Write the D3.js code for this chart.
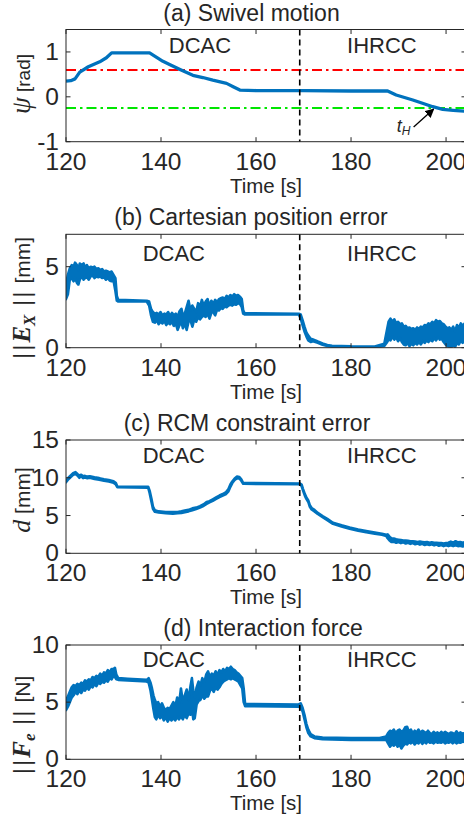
<!DOCTYPE html>
<html><head><meta charset="utf-8">
<script src="https://cdn.jsdelivr.net/npm/d3@7"></script>
<style>
html,body{margin:0;padding:0;background:#fff;}
svg{display:block;}
text{font-family:"Liberation Sans",Arial,Helvetica,sans-serif;fill:#262626;}
</style></head>
<body>
<svg id="c" width="464" height="821"></svg>
<script>
// ---------------- data ----------------
const xTicks = [120, 140, 160, 180, 200];
const switchTime = 169.2;
const phaseLabels = ["DCAC", "IHRCC"];
const titles = ["(a) Swivel motion", "(b) Cartesian position error", "(c) RCM constraint error", "(d) Interaction force"];
const yTicksA = [-1, 0, 1];
const yTicksB = [0, 5];
const yTicksC = [0, 5, 10, 15];
const yTicksD = [0, 5, 10];
const swivelUpper = 0.6;
const swivelLower = -0.25;
const tH = 197.6;

// (a) swivel angle psi [rad]: [time, value]
const swivel = [
  [120.0,0.35],[121.0,0.36],[121.9,0.40],[122.9,0.55],[124.7,0.67],[127.1,0.78],[128.5,0.87],
  [129.6,0.98],[137.6,0.98],[138.5,0.92],[140.4,0.79],[141.8,0.72],[144.0,0.61],[146.7,0.48],
  [148.8,0.43],[150.9,0.37],[153.8,0.30],[155.3,0.22],[156.6,0.15],[160.0,0.14],[170.0,0.14],
  [180.0,0.13],[187.7,0.13],[189.5,0.04],[193.0,-0.07],[195.2,-0.15],[197.2,-0.22],[199.3,-0.28],
  [201.5,-0.30],[204.2,-0.32]
];

// (b) Cartesian position error [mm]: [time, low, high] of the plotted trace
const posErr = [
  [120.0,3.0,3.9],[120.4,3.3,4.5],[120.8,4.2,4.9],[121.2,4.3,5.1],[121.6,4.1,5.0],[121.9,4.3,5.25],
  [122.3,4.0,5.1],[122.6,3.9,4.8],[122.9,4.2,5.2],[123.3,4.4,5.1],[123.7,4.2,5.2],[124.0,4.3,4.95],
  [124.4,4.35,5.1],[124.8,4.2,4.9],[125.2,4.4,5.0],[125.6,4.45,4.95],[126.0,4.3,5.0],[126.4,4.4,4.85],
  [126.8,4.35,4.9],[127.2,4.4,4.8],[127.6,4.3,4.85],[128.0,4.35,4.7],[128.4,4.2,4.75],[128.8,4.3,4.7],
  [129.2,4.15,4.65],[129.6,4.1,4.7],[130.0,4.15,4.5],[130.4,3.5,4.3],[130.7,2.9,3.2],[131.0,2.85,2.95],
  [137.0,2.85,2.9],[137.5,2.6,2.85],[137.9,2.0,2.4],[138.3,1.6,2.2],[138.7,1.55,2.1],[139.1,1.7,2.15],
  [139.5,1.45,2.05],[139.9,1.6,2.2],[140.3,1.5,2.0],[140.7,1.65,2.1],[141.1,1.4,2.05],[141.5,1.55,2.2],
  [141.9,1.45,1.95],[142.3,1.6,2.15],[142.7,1.35,2.0],[143.1,1.5,2.1],[143.5,1.1,1.9],[143.9,1.4,2.25],
  [144.3,1.6,2.4],[144.6,1.2,2.0],[145.0,1.5,2.1],[145.4,1.1,2.5],[145.8,1.6,2.9],[146.2,1.7,2.3],
  [146.6,1.3,2.6],[147.0,1.75,2.4],[147.4,1.6,2.2],[147.8,1.9,2.75],[148.2,1.75,2.5],[148.6,1.9,2.95],
  [149.0,2.0,2.6],[149.4,1.9,2.85],[149.8,2.1,3.0],[150.2,1.8,2.55],[150.6,2.15,2.9],[151.0,2.2,2.7],
  [151.4,2.0,2.95],[151.8,2.35,2.8],[152.2,2.3,3.0],[152.6,2.45,3.05],[153.0,2.4,3.1],[153.4,2.55,3.0],
  [153.8,2.5,3.2],[154.2,2.6,3.1],[154.6,2.65,3.25],[155.0,2.6,3.15],[155.4,2.7,3.3],[155.8,2.65,3.2],
  [156.2,2.75,3.25],[156.6,2.7,3.15],[157.0,2.5,3.0],[157.3,2.1,2.3],[157.6,2.05,2.12],[169.0,2.05,2.1],
  [169.4,1.8,2.05],[169.8,1.4,1.7],[170.2,1.0,1.3],[170.6,0.7,0.95],[171.0,0.45,0.75],[171.5,0.35,0.55],
  [172.0,0.4,0.5],[172.5,0.35,0.45],[173.0,0.3,0.38],[174.0,0.18,0.26],[175.0,0.1,0.17],[176.0,0.06,0.12],
  [180.0,0.03,0.08],[185.0,0.02,0.07],[187.0,0.1,0.25],[187.5,0.3,1.0],[187.9,0.5,1.6],[188.3,0.45,1.8],
  [188.7,0.7,1.6],[189.1,0.5,1.75],[189.5,0.65,1.5],[189.9,0.4,1.6],[190.3,0.6,1.45],[190.7,0.35,1.5],
  [191.1,0.2,1.3],[191.5,0.15,1.35],[191.9,0.3,1.2],[192.3,0.1,1.25],[192.7,0.25,1.15],[193.1,0.15,1.2],
  [193.5,0.3,1.1],[193.9,0.2,1.25],[194.3,0.35,1.15],[194.7,0.2,1.3],[195.1,0.4,1.25],[195.5,0.3,1.4],
  [195.9,0.45,1.35],[196.3,0.35,1.5],[196.7,0.5,1.45],[197.1,0.4,1.6],[197.5,0.6,1.5],[197.9,0.45,1.7],
  [198.3,0.65,1.6],[198.7,0.5,1.65],[199.1,0.55,1.5],[199.5,0.35,1.45],[199.9,0.2,1.3],[200.3,0.1,1.2],
  [200.7,0.05,1.25],[201.1,0.0,1.1],[201.5,0.2,1.3],[201.9,0.05,1.0],[202.3,0.3,1.4],[202.7,0.2,1.2],
  [203.1,0.45,1.5],[203.5,0.3,1.35],[204.2,0.5,1.6]
];

// (c) RCM constraint error d [mm]: [time, low, high]
const rcmErr = [
  [120.0,9.4,9.6],[120.5,9.8,10.0],[121.0,10.1,10.3],[121.5,10.4,10.6],[122.0,10.5,10.75],[122.4,10.3,10.5],
  [122.8,10.0,10.3],[123.2,10.2,10.4],[123.6,9.95,10.2],[124.0,10.05,10.25],[124.5,9.95,10.15],[125.0,10.0,10.2],
  [126.0,9.85,10.05],[127.0,9.75,9.95],[128.0,9.6,9.8],[129.0,9.5,9.7],[130.0,9.35,9.55],[130.5,9.1,9.3],
  [130.8,8.75,8.85],[137.3,8.7,8.8],[137.6,8.0,8.3],[138.0,6.8,7.2],[138.3,5.9,6.2],[138.7,5.5,5.7],
  [139.5,5.4,5.55],[141.0,5.3,5.45],[142.5,5.25,5.45],[143.5,5.3,5.45],[144.3,5.35,5.55],[145.0,5.45,5.65],
  [145.8,5.55,5.75],[146.6,5.7,5.95],[147.4,5.85,6.05],[148.2,6.05,6.25],[149.0,6.3,6.5],[149.6,6.55,6.8],
  [150.2,6.75,6.9],[150.9,6.95,7.15],[151.6,7.2,7.4],[152.3,7.45,7.65],[153.0,7.65,7.85],[153.7,7.85,8.1],
  [154.2,8.2,8.5],[154.6,8.8,9.1],[155.0,9.3,9.5],[155.5,9.7,9.9],[156.0,9.95,10.15],[156.5,9.9,10.1],
  [156.9,9.6,9.8],[157.3,9.2,9.3],[169.2,9.15,9.25],[169.6,8.9,9.1],[169.9,8.3,8.5],[170.3,7.6,7.8],
  [170.6,7.2,7.4],[171.0,6.8,7.0],[171.3,6.2,6.4],[171.7,5.8,6.0],[172.3,5.55,5.75],[173.0,5.2,5.35],
  [174.1,4.75,4.9],[175.0,4.4,4.55],[176.2,3.9,4.05],[178.0,3.55,3.7],[179.7,3.25,3.4],[181.5,3.0,3.15],
  [183.2,2.8,2.95],[185.0,2.6,2.75],[186.5,2.45,2.6],[187.4,2.3,2.45],[187.7,2.0,2.5],[188.1,1.7,2.2],
  [188.5,1.5,2.0],[189.0,1.55,1.95],[189.5,1.4,1.85],[190.0,1.5,1.8],[190.5,1.35,1.75],[191.0,1.45,1.7],
  [191.5,1.3,1.7],[192.0,1.4,1.65],[192.5,1.25,1.6],[193.0,1.35,1.6],[193.5,1.2,1.55],[194.0,1.3,1.5],
  [194.5,1.15,1.55],[195.0,1.25,1.5],[195.5,1.1,1.45],[196.0,1.2,1.5],[196.5,1.1,1.4],[197.0,1.2,1.45],
  [197.5,1.05,1.4],[198.0,1.15,1.4],[198.5,1.0,1.35],[199.0,1.1,1.35],[199.5,0.95,1.3],[200.0,1.05,1.35],
  [200.5,0.95,1.4],[201.0,1.05,1.55],[201.5,0.95,1.4],[202.0,1.05,1.6],[202.5,0.95,1.45],[203.0,1.0,1.5],
  [203.5,0.9,1.4],[204.2,1.0,1.5]
];

// (d) interaction force [N]: [time, low, high]
const force = [
  [120.0,4.3,5.2],[120.4,4.6,5.5],[120.8,5.0,5.9],[121.2,5.4,6.3],[121.6,5.6,6.5],[122.0,5.9,6.4],
  [122.4,5.7,6.6],[122.8,6.0,6.5],[123.2,5.8,6.7],[123.6,6.1,6.6],[124.0,6.0,6.9],[124.4,6.3,6.8],
  [124.8,6.1,7.0],[125.2,6.4,6.9],[125.6,6.3,7.2],[126.0,6.6,7.1],[126.4,6.4,7.3],[126.8,6.7,7.2],
  [127.2,6.6,7.5],[127.6,6.8,7.3],[128.0,6.7,7.6],[128.4,6.9,7.5],[128.8,6.8,7.8],[129.2,7.1,7.6],
  [129.6,7.0,7.9],[130.0,7.3,7.9],[130.3,7.2,8.0],[130.6,7.0,7.4],[131.0,6.95,7.1],[133.0,6.9,7.05],
  [135.0,6.85,7.0],[137.0,6.8,6.95],[137.4,6.7,7.1],[137.8,6.0,6.7],[138.1,5.2,6.2],[138.4,4.4,5.6],
  [138.7,3.7,5.2],[139.0,3.5,4.9],[139.4,3.9,5.0],[139.8,3.6,4.6],[140.2,3.8,4.9],[140.6,3.4,4.5],
  [141.0,3.7,4.3],[141.4,3.3,4.5],[141.8,3.6,4.4],[142.2,3.4,4.7],[142.6,3.6,5.0],[143.0,3.4,4.6],
  [143.4,3.7,5.4],[143.8,3.5,4.9],[144.2,3.8,6.2],[144.6,3.5,5.0],[145.0,3.9,5.6],[145.4,3.6,6.1],
  [145.8,4.0,5.2],[146.2,3.9,6.4],[146.5,4.5,7.1],[146.8,3.5,6.0],[147.1,3.6,5.4],[147.5,4.8,6.3],
  [147.9,5.1,6.8],[148.3,5.2,6.5],[148.7,5.6,7.1],[149.1,5.3,6.7],[149.5,5.5,7.4],[149.9,5.5,7.7],
  [150.3,6.0,7.2],[150.7,6.2,7.5],[151.1,5.9,7.3],[151.5,6.3,7.7],[151.9,6.1,7.4],[152.3,6.3,7.8],
  [152.7,6.6,7.6],[153.1,6.8,7.9],[153.5,6.9,7.7],[153.9,7.0,8.0],[154.3,7.1,7.9],[154.7,7.0,8.1],
  [155.1,7.1,7.9],[155.5,7.0,7.8],[155.9,6.9,7.6],[156.3,6.8,7.5],[156.7,6.5,7.3],[157.1,6.2,7.1],
  [157.4,5.0,6.2],[157.7,4.65,4.85],[169.0,4.6,4.8],[169.4,4.5,4.9],[169.8,4.2,4.5],[170.2,3.5,3.9],
  [170.6,2.8,3.1],[171.0,2.3,2.6],[171.5,2.0,2.2],[172.3,1.85,2.0],[174.0,1.75,1.9],[180.0,1.7,1.85],
  [186.0,1.72,1.87],[187.4,1.7,2.0],[187.8,1.4,2.3],[188.2,1.1,2.5],[188.6,1.3,2.4],[189.0,1.2,2.6],
  [189.4,1.4,2.3],[189.8,1.1,2.5],[190.2,1.3,2.6],[190.6,0.95,2.4],[191.0,1.2,2.5],[191.4,1.4,2.8],
  [191.8,1.3,2.85],[192.2,1.5,2.4],[192.6,1.4,2.6],[193.0,1.55,2.3],[193.4,1.3,2.5],[193.8,1.5,2.35],
  [194.2,1.4,2.6],[194.6,1.6,2.3],[195.0,1.35,2.5],[195.4,1.55,2.4],[195.8,1.4,2.3],[196.2,1.6,2.5],
  [196.6,1.45,2.3],[197.0,1.5,2.2],[197.4,1.4,2.4],[197.8,1.55,2.25],[198.2,1.45,2.35],[198.6,1.5,2.2],
  [199.0,1.45,2.4],[199.4,1.55,2.25],[199.8,1.4,2.4],[200.2,1.5,2.3],[200.6,1.45,2.2],[201.0,1.55,2.35],
  [201.4,1.4,2.3],[201.8,1.55,2.2],[202.2,1.4,2.45],[202.6,1.5,2.2],[203.0,1.45,2.35],[203.5,1.55,2.25],
  [204.2,1.5,2.3]
];

// ---------------- drawing ----------------
const svg = d3.select("#c");
const BLUE = "#0072BD", AX = "#262626";
const x = d3.scaleLinear().domain([120, 204.2]).range([66, 466]);
const serif = '"Liberation Serif","DejaVu Serif",serif';

const panels = [
  {top: 29.5, bottom: 141.7, dom: [-1, 1.5], ticks: yTicksA, titleX: 251.5, lblDy: 23, lblT: [148.2, 186.5], ylabY: 84},
  {top: 234.3, bottom: 347.7, dom: [0, 7], ticks: yTicksB, titleX: 251, lblDy: 27, lblT: [142.7, 186.5], ylabY: 298},
  {top: 440, bottom: 553.3, dom: [0, 15], ticks: yTicksC, titleX: 247, lblDy: 23, lblT: [142.7, 186.5], ylabY: 500},
  {top: 645, bottom: 759.3, dom: [0, 10], ticks: yTicksD, titleX: 263, lblDy: 22, lblT: [142.7, 186.5], ylabY: 725}
];

const defs = svg.append("defs");

panels.forEach((p, i) => {
  const y = d3.scaleLinear().domain(p.dom).range([p.bottom, p.top]);
  p.y = y;
  const g = svg.append("g");
  const [x0, x1] = x.range();

  g.append("text").attr("x", p.titleX).attr("y", p.top - 9)
    .attr("text-anchor", "middle").attr("font-size", 23).text(titles[i]);

  const cid = "clip" + i;
  defs.append("clipPath").attr("id", cid).append("rect")
    .attr("x", x0).attr("y", p.top).attr("width", x1 - x0).attr("height", p.bottom - p.top);
  const plot = g.append("g").attr("clip-path", `url(#${cid})`);

  if (i === 0) {
    plot.append("line").attr("x1", x0).attr("x2", x1)
      .attr("y1", y(swivelUpper)).attr("y2", y(swivelUpper))
      .attr("stroke", "#ff0000").attr("stroke-width", 2).attr("stroke-dasharray", "10,4,2.5,4");
    plot.append("line").attr("x1", x0).attr("x2", x1)
      .attr("y1", y(swivelLower)).attr("y2", y(swivelLower))
      .attr("stroke", "#00e600").attr("stroke-width", 2).attr("stroke-dasharray", "10,4,2.5,4");
    plot.append("path").datum(swivel)
      .attr("d", d3.line().x(d => x(d[0])).y(d => y(d[1])))
      .attr("fill", "none").attr("stroke", BLUE).attr("stroke-width", 3.3).attr("stroke-linejoin", "round");
  } else {
    const series = [posErr, rcmErr, force][i - 1];
    plot.append("path").datum(series)
      .attr("d", d3.area().x(d => x(d[0])).y0(d => y(d[1])).y1(d => y(d[2])))
      .attr("fill", BLUE).attr("stroke", BLUE).attr("stroke-width", 2.6).attr("stroke-linejoin", "round");
  }

  g.append("line").attr("x1", x(switchTime)).attr("x2", x(switchTime))
    .attr("y1", p.top).attr("y2", p.bottom)
    .attr("stroke", "#000").attr("stroke-width", 1.6).attr("stroke-dasharray", "6,4");

  g.append("rect").attr("x", x0).attr("y", p.top).attr("width", x1 - x0).attr("height", p.bottom - p.top)
    .attr("fill", "none").attr("stroke", AX).attr("stroke-width", 1);

  xTicks.forEach(t => {
    g.append("line").attr("x1", x(t)).attr("x2", x(t)).attr("y1", p.bottom).attr("y2", p.bottom - 4.5).attr("stroke", AX);
    g.append("line").attr("x1", x(t)).attr("x2", x(t)).attr("y1", p.top).attr("y2", p.top + 4.5).attr("stroke", AX);
    g.append("text").attr("x", x(t)).attr("y", p.bottom + 28).attr("text-anchor", "middle")
      .attr("font-size", 24.5).text(t);
  });
  p.ticks.forEach(v => {
    g.append("line").attr("x1", x0).attr("x2", x0 + 4.5).attr("y1", y(v)).attr("y2", y(v)).attr("stroke", AX);
    g.append("line").attr("x1", x1).attr("x2", x1 - 4.5).attr("y1", y(v)).attr("y2", y(v)).attr("stroke", AX);
    g.append("text").attr("x", 59).attr("y", y(v) + 8).attr("text-anchor", "end")
      .attr("font-size", 24.5).text(v);
  });

  g.append("text").attr("x", (x0 + x1) / 2).attr("y", p.bottom + 51).attr("text-anchor", "middle")
    .attr("font-size", 20.5).text("Time [s]");

  phaseLabels.forEach((s, k) => {
    g.append("text").attr("x", x(p.lblT[k])).attr("y", p.top + p.lblDy)
      .attr("text-anchor", "middle").attr("font-size", 22).attr("fill", "#000").text(s);
  });
});

// y labels
function ylab(p, bx, build) {
  const t = svg.append("text")
    .attr("transform", `translate(${bx},${p.ylabY}) rotate(-90)`)
    .attr("text-anchor", "middle").attr("font-size", 21);
  build(t);
}
ylab(panels[0], 30, t => {
  t.append("tspan").attr("font-family", serif).attr("font-style", "italic").attr("font-size", 27).text("ψ");
  t.append("tspan").attr("font-size", 19).text("  [rad]");
});
ylab(panels[1], 30, t => {
  t.append("tspan").attr("font-size", 24).attr("letter-spacing", 2).text("||");
  t.append("tspan").attr("font-family", serif).attr("font-style", "italic").attr("font-weight", "bold").attr("font-size", 25).text("E");
  t.append("tspan").attr("font-family", serif).attr("font-style", "italic").attr("font-weight", "bold").attr("font-size", 17).attr("dy", 5).text("X");
  t.append("tspan").attr("font-size", 24).attr("letter-spacing", 2).attr("dy", -5).text(" ||");
  t.append("tspan").text("  [mm]");
});
ylab(panels[2], 30, t => {
  t.append("tspan").attr("font-family", serif).attr("font-style", "italic").attr("font-size", 26).text("d");
  t.append("tspan").text(" [mm]");
});
ylab(panels[3], 30, t => {
  t.append("tspan").attr("font-size", 24).attr("letter-spacing", 2).text("||");
  t.append("tspan").attr("font-family", serif).attr("font-style", "italic").attr("font-weight", "bold").attr("font-size", 25).text("F");
  t.append("tspan").attr("font-family", serif).attr("font-style", "italic").attr("font-weight", "bold").attr("font-size", 17).attr("dy", 5).text("e");
  t.append("tspan").attr("font-size", 24).attr("letter-spacing", 2).attr("dy", -5).text(" ||");
  t.append("tspan").text("   [N]");
});

// t_H annotation
const pa = panels[0];
defs.append("marker").attr("id", "arr").attr("viewBox", "0 0 10 10")
  .attr("refX", 9).attr("refY", 5).attr("markerWidth", 7).attr("markerHeight", 7).attr("orient", "auto")
  .append("path").attr("d", "M0,0 L10,5 L0,10 z").attr("fill", "#000");
svg.append("line").attr("x1", x(tH) - 21).attr("y1", pa.y(swivelLower) + 19)
  .attr("x2", x(tH) - 1).attr("y2", pa.y(swivelLower) + 1)
  .attr("stroke", "#000").attr("stroke-width", 1.3).attr("marker-end", "url(#arr)");
const tt = svg.append("text").attr("x", x(tH) - 38).attr("y", pa.y(swivelLower) + 24)
  .attr("font-family", serif).attr("font-style", "italic").attr("font-size", 18).attr("fill", "#000");
tt.append("tspan").text("t");
tt.append("tspan").attr("font-size", 12).attr("dy", 3).text("H");
</script>
</body></html>
